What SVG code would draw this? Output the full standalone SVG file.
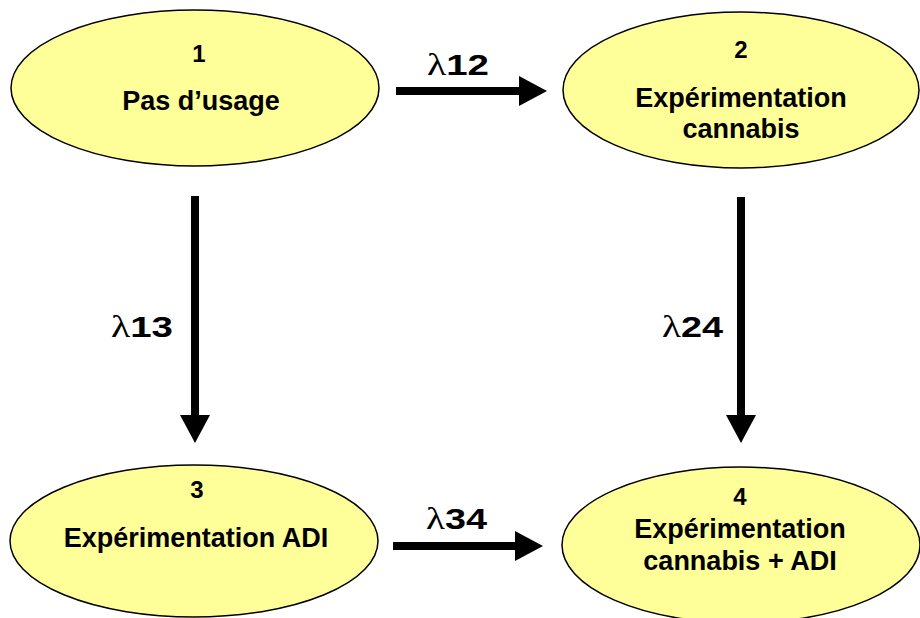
<svg xmlns="http://www.w3.org/2000/svg" width="920" height="618" viewBox="0 0 920 618">
  <defs>
    <style>
      .node { fill: #FFFF99; stroke: #000; stroke-width: 1.5; }
      .num { font-family: "Liberation Sans", Arial, sans-serif; font-weight: bold; font-size: 24px; fill: #000; text-anchor: middle; }
      .lbl { font-family: "Liberation Sans", Arial, sans-serif; font-weight: bold; font-size: 27px; fill: #000; text-anchor: middle; }
      .rate { font-family: "Liberation Sans", Arial, sans-serif; font-weight: bold; font-size: 30px; fill: #000; }
      .lam { font-family: "Liberation Serif", "Times New Roman", serif; font-weight: normal; font-size: 31px; }
      .edge { stroke: #000; stroke-width: 8; fill: none; marker-end: url(#head); }
    </style>
    <marker id="head" markerUnits="userSpaceOnUse" markerWidth="28" markerHeight="30" refX="4" refY="15" orient="auto" viewBox="0 0 28 30">
      <path d="M0,0 L28,15 L0,30 z" fill="#000"/>
    </marker>
  </defs>
  <rect width="920" height="618" fill="#fff"/>

  <g id="connectors">
    <g id="e12">
      <line class="edge" x1="396" y1="91" x2="523" y2="91"/>
      <text class="rate" x="427" y="75" textLength="62" lengthAdjust="spacingAndGlyphs"><tspan class="lam">λ</tspan>12</text>
    </g>
    <g id="e13">
      <line class="edge" x1="195" y1="196" x2="195" y2="419"/>
      <text class="rate" x="111" y="337" textLength="62" lengthAdjust="spacingAndGlyphs"><tspan class="lam">λ</tspan>13</text>
    </g>
    <g id="e24">
      <line class="edge" x1="741" y1="197" x2="741" y2="419"/>
      <text class="rate" x="662" y="337" textLength="61" lengthAdjust="spacingAndGlyphs"><tspan class="lam">λ</tspan>24</text>
    </g>
    <g id="e34">
      <line class="edge" x1="393" y1="546" x2="519" y2="546"/>
      <text class="rate" x="426" y="529" textLength="61" lengthAdjust="spacingAndGlyphs"><tspan class="lam">λ</tspan>34</text>
    </g>
  </g>

  <g id="node1">
    <ellipse class="node" cx="195" cy="88" rx="184" ry="78"/>
    <text class="num" x="199" y="62">1</text>
    <text class="lbl" x="201" y="110">Pas d’usage</text>
  </g>
  <g id="node2">
    <ellipse class="node" cx="741" cy="90" rx="178" ry="78"/>
    <text class="num" x="741" y="58">2</text>
    <text class="lbl" x="741" y="107">Expérimentation</text>
    <text class="lbl" x="741" y="138">cannabis</text>
  </g>
  <g id="node3">
    <ellipse class="node" cx="194" cy="541" rx="184" ry="76"/>
    <text class="num" x="197" y="498">3</text>
    <text class="lbl" x="196" y="547">Expérimentation ADI</text>
  </g>
  <g id="node4">
    <ellipse class="node" cx="741" cy="545" rx="179" ry="78"/>
    <text class="num" x="740" y="505">4</text>
    <text class="lbl" x="740" y="538">Expérimentation</text>
    <text class="lbl" x="740" y="570">cannabis + ADI</text>
  </g>
</svg>
